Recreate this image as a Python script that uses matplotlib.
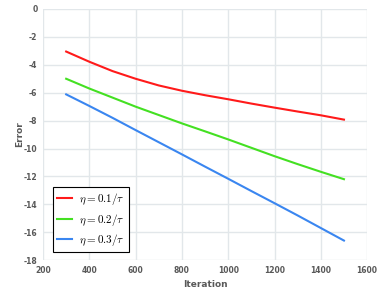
import numpy as np
import matplotlib.pyplot as plt

plt.rcParams['mathtext.fontset'] = 'cm'
plt.rcParams['axes.unicode_minus'] = False

# values
iterations = [300, 400, 500, 600, 700, 800, 900, 1000, 1100, 1200, 1300, 1400, 1500]
err_01 = [-3.05, -3.78, -4.45, -5.0, -5.48, -5.86, -6.18, -6.47, -6.78, -7.07, -7.35, -7.62, -7.93]
err_02 = [-5.0, -5.7, -6.35, -7.0, -7.6, -8.2, -8.77, -9.35, -9.95, -10.55, -11.12, -11.67, -12.2]
err_03 = [-6.12, -6.95, -7.8, -8.68, -9.55, -10.42, -11.3, -12.17, -13.05, -13.92, -14.8, -15.7, -16.6]
labels = [r'$\eta = 0.1/\tau$', r'$\eta = 0.2/\tau$', r'$\eta = 0.3/\tau$']
colors = ['#ff1a1a', '#44e022', '#3a86f0']

xticks = np.arange(200, 1601, 200)
yticks = np.arange(-18, 1, 2)


if __name__ == '__main__':
    fig = plt.figure(figsize=(3.84, 3.0), dpi=100)
    ax = fig.add_axes([0.112, 0.133, 0.844, 0.837])

    for ys, lab, c in zip([err_01, err_02, err_03], labels, colors):
        ax.plot(iterations, ys, color=c, lw=1.5, label=lab)

    ax.set_xlim(200, 1600)
    ax.set_ylim(-18, 0)
    ax.set_xticks(xticks)
    ax.set_yticks(yticks)
    ax.grid(True, color='#e2e7ea', lw=1.0)
    ax.set_axisbelow(True)
    for s in ax.spines.values():
        s.set_visible(False)
    ax.tick_params(length=0, pad=4, labelsize=5.5, labelcolor='#595959')
    for t in ax.get_xticklabels() + ax.get_yticklabels():
        t.set_fontweight('bold')

    ax.set_xlabel('Iteration', fontsize=6.5, fontweight='bold', color='#595959', labelpad=4)
    ax.set_ylabel('Error', fontsize=6.5, fontweight='bold', color='#595959', labelpad=0)

    leg = ax.legend(loc='lower left', bbox_to_anchor=(0.031, 0.032), borderaxespad=0,
                    fontsize=8, handlelength=1.4, handletextpad=0.6, fancybox=False,
                    framealpha=1, edgecolor='black', borderpad=0.35, labelspacing=0.4)
    leg.get_frame().set_linewidth(0.8)

    fig.savefig('out.png', dpi=100)
